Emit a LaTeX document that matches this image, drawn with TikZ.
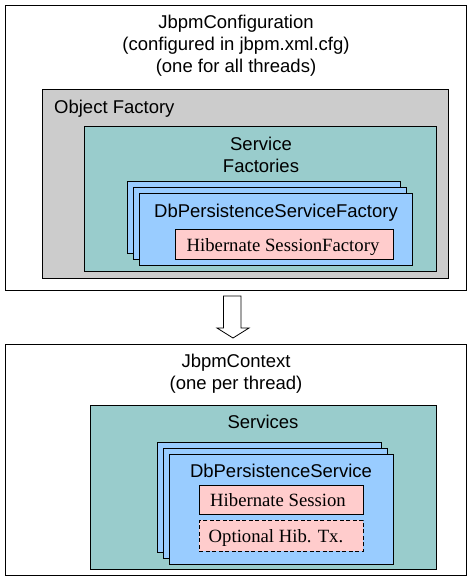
\documentclass[tikz,border=0pt]{standalone}
\usepackage{fontspec}
\setmainfont{Liberation Sans}
\newfontfamily\serifface{Liberation Serif}
\usepackage{xcolor}
\definecolor{ofgray}{HTML}{CCCCCC}
\definecolor{svcteal}{HTML}{99CCCC}
\definecolor{dbblue}{HTML}{99CCFF}
\definecolor{hibpink}{HTML}{FFCCCC}

\begin{document}
\begin{tikzpicture}[x=1pt, y=-1pt, font=\fontsize{18.5}{22}\selectfont,
    box/.style={draw, line width=0.8pt, rectangle, anchor=north west, inner sep=0pt},
    txt/.style={inner sep=0pt, anchor=base, align=center},
    hib/.style={txt, font=\serifface\fontsize{18.7}{22}\selectfont}]

    \useasboundingbox (0,0) rectangle (472,581);

    % Top: configuration
    \node (conf) [box, minimum width=461pt, minimum height=285pt] at (5,5) {};
    \node (conf1) [txt] at (236,28) {JbpmConfiguration};
    \node (conf2) [txt] at (236,50) {(configured in jbpm.xml.cfg)};
    \node (conf3) [txt] at (236,72) {(one for all threads)};

    \node (of) [box, fill=ofgray, minimum width=406pt, minimum height=189pt] at (42,89) {};
    \node (oflabel) [txt, anchor=base west] at (54,113) {Object Factory};

    \node (sf) [box, fill=svcteal, minimum width=352pt, minimum height=145pt] at (84,126) {};
    \node (sf1) [txt] at (261,150) {Service};
    \node (sf2) [txt] at (261,172) {Factories};

    % Stacked factories
    \foreach \i/\nm in {0/dbfa, 6/dbfb, 12/dbf}
        \node (\nm) [box, fill=dbblue, minimum width=273pt, minimum height=72pt] at (127+\i,181+\i) {};
    \node (dbflabel) [txt] at (276,217) {DbPersistenceServiceFactory};

    \node (hsf) [box, fill=hibpink, minimum width=218pt, minimum height=30pt] at (175,229) {};
    \node (hsflabel) [hib] at (283,251) {Hibernate SessionFactory};

    % Arrow
    \draw[line width=0.8pt, fill=white] (223.5,296) -- (241,296) -- (241,328) -- (249,328)
        -- (233,338) -- (217,328) -- (223.5,328) -- cycle;

    % Bottom: context
    \node (ctx) [box, minimum width=461pt, minimum height=231pt] at (5,344) {};
    \node (ctx1) [txt] at (236,367) {JbpmContext};
    \node (ctx2) [txt] at (236,389) {(one per thread)};

    \node (svc) [box, fill=svcteal, minimum width=346pt, minimum height=164pt] at (90,405) {};
    \node (svclabel) [txt] at (263,428) {Services};

    % Stacked services
    \foreach \i/\nm in {0/dbsa, 6/dbsb, 12/dbs}
        \node (\nm) [box, fill=dbblue, minimum width=224pt, minimum height=110pt] at (157+\i,442+\i) {};
    \node (dbslabel) [txt] at (281,477) {DbPersistenceService};

    \node (hs) [box, fill=hibpink, minimum width=164pt, minimum height=29pt] at (199,485) {};
    \node (hslabel) [hib] at (278,506) {Hibernate Session};

    \node (tx) [box, fill=hibpink, dash pattern=on 4pt off 2.5pt, minimum width=164pt, minimum height=31pt] at (199,520) {};
    \node (txlabel) [hib] at (276,542) {Optional Hib. Tx.};

\end{tikzpicture}
\end{document}
